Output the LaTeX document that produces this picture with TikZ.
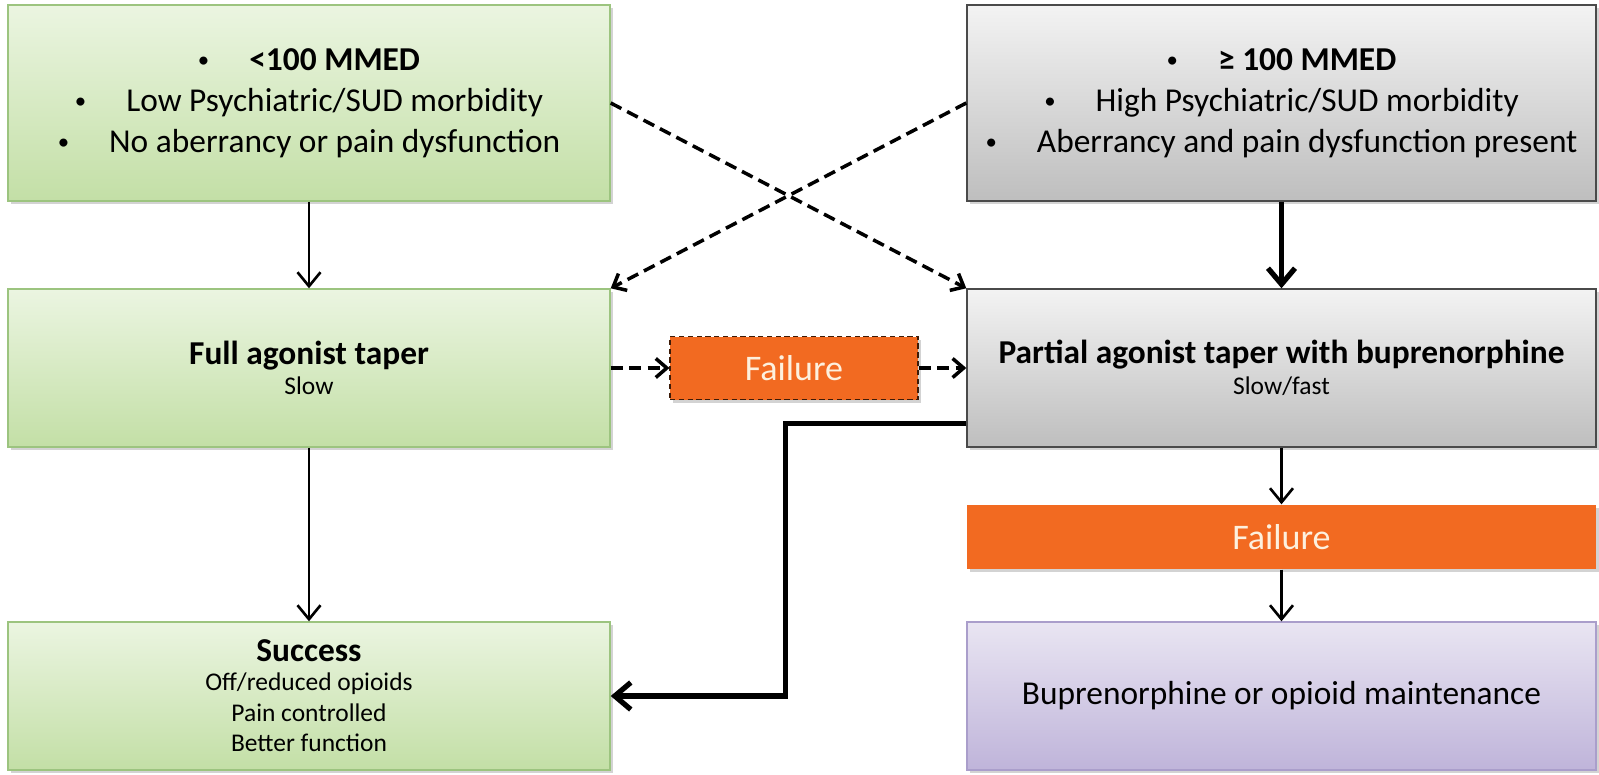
\documentclass[tikz,border=0pt]{standalone}
\usepackage{fontspec}
\setmainfont{Carlito}
\usetikzlibrary{arrows.meta,shadows}
\definecolor{greentop}{HTML}{EBF5E1}
\definecolor{greenbot}{HTML}{C3DFA6}
\definecolor{greenline}{HTML}{9CC47F}
\definecolor{greytop}{HTML}{F3F3F3}
\definecolor{greybot}{HTML}{BEBEBE}
\definecolor{greyline}{HTML}{4A4A4A}
\definecolor{failorange}{HTML}{F26A21}
\definecolor{failtext}{HTML}{FDF0DE}
\definecolor{purpletop}{HTML}{E9E5F2}
\definecolor{purplebot}{HTML}{BFB4DA}
\definecolor{purpleline}{HTML}{AA9ECB}
\tikzset{
  box/.style={inner sep=0pt, align=center, line width=0.8pt,
    font=\fontsize{19}{23.4}\selectfont,
    drop shadow={opacity=0.35, shadow xshift=0.06cm, shadow yshift=-0.06cm}},
  greenbox/.style={box, draw=greenline, top color=greentop, bottom color=greenbot, minimum width=12.04cm},
  greybox/.style={box, draw=greyline, top color=greytop, bottom color=greybot, minimum width=12.58cm},
  purplebox/.style={box, draw=purpleline, top color=purpletop, bottom color=purplebot, minimum width=12.58cm},
  failbox/.style={box, fill=failorange, text=failtext, font=\fontsize{20.5}{24}\selectfont},
  thinarrow/.style={line width=1.5pt, -{Straight Barb[length=2.8mm, width=4.6mm, line width=1.5pt]}},
  thickarrow/.style={line width=3pt, -{Straight Barb[length=3.2mm, width=5.4mm, line width=3pt]}},
  dasharrow/.style={line width=2pt, dash pattern=on 2.4mm off 1.3mm, -{Straight Barb[length=2.2mm, width=3.8mm, line width=2pt]}},
}
\newcommand{\bul}{\raisebox{0.15ex}{\fontsize{13}{13}\selectfont\textbullet}\hspace{0.8cm}}
\newcommand{\sub}{\fontsize{14.5}{16.5}\selectfont}
\begin{document}
\begin{tikzpicture}
\useasboundingbox (0,0) rectangle (31.98,-15.5);
\node[greenbox, minimum height=3.92cm] (P_0_0) at (6.18,-2.06) {\bul\textbf{<100 MMED}\\ \bul Low Psychiatric/SUD morbidity\\ \bul No aberrancy or pain dysfunction};
\node[greybox, minimum height=3.92cm] (P_2_0) at (25.63,-2.06) {\bul\textbf{≥ 100 MMED}\\ \bul High Psychiatric/SUD morbidity\\ \bul Aberrancy and pain dysfunction present};
\node[greenbox, minimum height=3.16cm] (P_0_1) at (6.18,-7.36) {\textbf{Full agonist taper}\\[-6pt] {\sub Slow}};
\node[failbox, minimum width=4.96cm, minimum height=1.26cm, draw=black!75!failorange, densely dashed, line width=0.6pt] (P_1_1) at (15.88,-7.36) {Failure};
\node[greybox, minimum height=3.16cm] (P_2_1) at (25.63,-7.36) {\textbf{Partial agonist taper with buprenorphine}\\[-6pt] {\sub Slow/fast}};
\node[failbox, minimum width=12.58cm, minimum height=1.28cm] (P_2_2) at (25.63,-10.74) {Failure};
\node[greenbox, minimum height=2.96cm] (P_0_3) at (6.18,-13.92) {\textbf{Success}\\[-7pt] {\sub Off/reduced opioids}\\[-6pt] {\sub Pain controlled}\\[-6pt] {\sub Better function}};
\node[purplebox, minimum height=2.96cm] (P_2_3) at (25.63,-13.92) {Buprenorphine or opioid maintenance};
\draw[thinarrow] (P_0_0) -- (P_0_1);
\draw[thickarrow] (P_2_0) -- (P_2_1);
\draw[dasharrow] (P_0_0.east) -- (P_2_1.north west);
\draw[dasharrow] (P_2_0.west) -- (P_0_1.north east);
\draw[dasharrow] (P_0_1) -- (P_1_1);
\draw[dasharrow] (P_1_1) -- (P_2_1);
\draw[thinarrow] (P_0_1) -- (P_0_3);
\draw[thinarrow] (P_2_1) -- (P_2_2);
\draw[thinarrow] (P_2_2) -- (P_2_3);
\draw[thickarrow] ([yshift=0.48cm]P_2_1.south west) -- ++(-3.62,0) |- (P_0_3.east);
\end{tikzpicture}
\end{document}
